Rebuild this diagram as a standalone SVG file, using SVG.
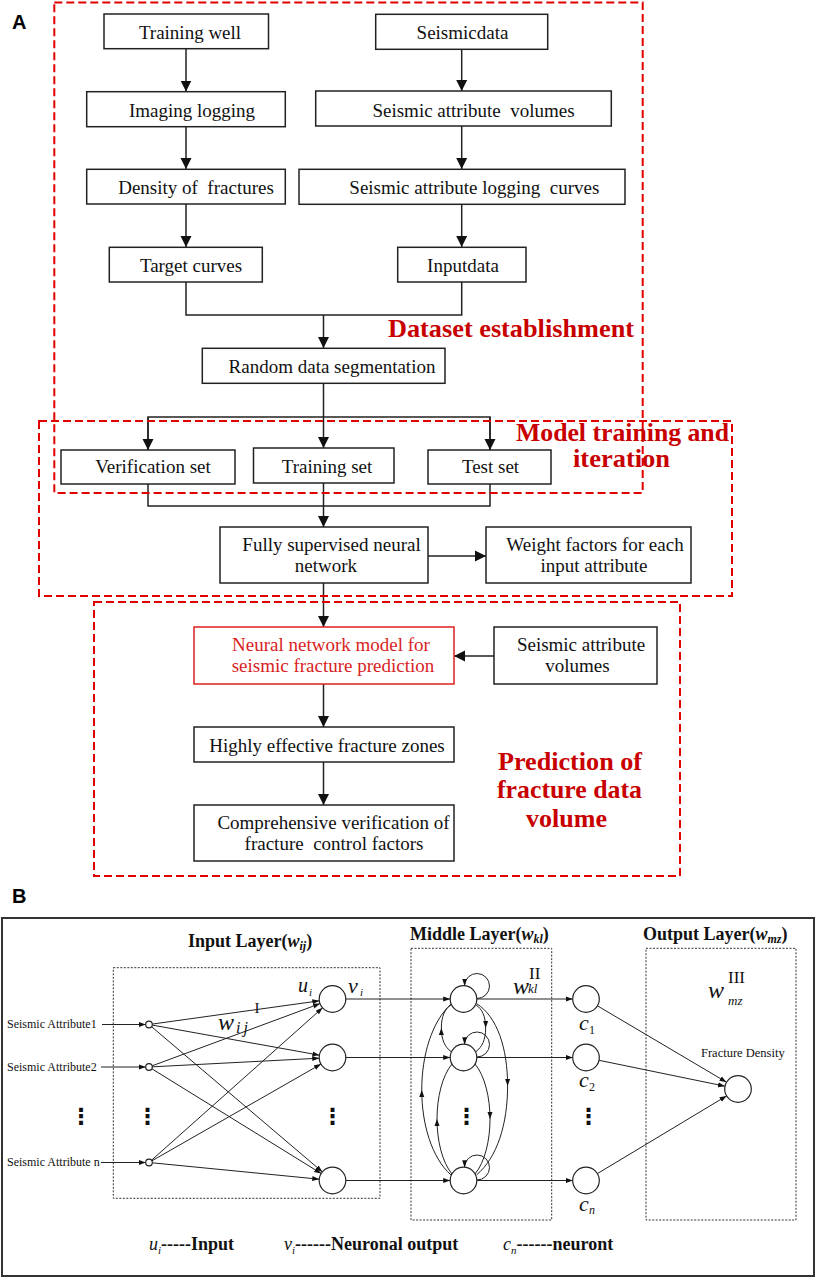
<svg xmlns="http://www.w3.org/2000/svg" width="816" height="1278" viewBox="0 0 816 1278">
<style>
.bx{fill:#fff;stroke:#222;stroke-width:1.5}
.rbx{fill:#fff;stroke:#e0201e;stroke-width:1.5}
.t{font-family:"Liberation Serif","Times New Roman",serif;font-size:19px;fill:#111;text-anchor:middle}
.rt{font-family:"Liberation Serif","Times New Roman",serif;font-size:19px;fill:#d81e1e;text-anchor:middle}
.lab{font-family:"Liberation Serif","Times New Roman",serif;font-weight:bold;font-size:25px;fill:#c80000}
.rd{fill:none;stroke:#e00000;stroke-width:2;stroke-dasharray:8,4}
.ln{fill:none;stroke:#222;stroke-width:1.5}
.ln2{fill:none;stroke:#222;stroke-width:1}
.db{fill:none;stroke:#333;stroke-width:1;stroke-dasharray:2,1.5}
.nd{fill:#fff;stroke:#222;stroke-width:1.2}
.s{font-family:"Liberation Serif","Times New Roman",serif;fill:#111}
.hd{font-family:"Liberation Serif","Times New Roman",serif;font-weight:bold;font-size:18px;fill:#111}
.dots{font-family:"DejaVu Sans",sans-serif;font-size:22px;fill:#111;text-anchor:middle;font-weight:bold}
.pl{font-family:"Liberation Sans",Arial,sans-serif;font-weight:bold;font-size:20px;fill:#000}
</style>
<defs>
<marker id="aL" markerUnits="userSpaceOnUse" markerWidth="12" markerHeight="12" refX="11" refY="6" orient="auto"><path d="M0,0.5 L11,6 L0,11.5 z" fill="#111"/></marker>
<marker id="aS" markerUnits="userSpaceOnUse" markerWidth="8" markerHeight="6" refX="7" refY="3" orient="auto"><path d="M0,0.5 L7,3 L0,5.5 z" fill="#111"/></marker>
</defs>
<rect width="816" height="1278" fill="#fff"/>

<text class="pl" x="12" y="29">A</text>

<g id="connectors-A">
<line class="ln" x1="186" y1="48.7" x2="186" y2="91.5" marker-end="url(#aL)"/>
<line class="ln" x1="186" y1="126.7" x2="186" y2="169" marker-end="url(#aL)"/>
<line class="ln" x1="186" y1="204" x2="186" y2="247" marker-end="url(#aL)"/>
<line class="ln" x1="461.7" y1="49.3" x2="461.7" y2="91" marker-end="url(#aL)"/>
<line class="ln" x1="461.7" y1="126" x2="461.7" y2="169" marker-end="url(#aL)"/>
<line class="ln" x1="461.7" y1="204.3" x2="461.7" y2="247" marker-end="url(#aL)"/>
<polyline class="ln" points="186,282 186,315 461.7,315 461.7,282"/>
<line class="ln" x1="323.5" y1="315" x2="323.5" y2="348" marker-end="url(#aL)"/>
<line class="ln" x1="323.5" y1="383.3" x2="323.5" y2="448" marker-end="url(#aL)"/>
<polyline class="ln" points="148,450 148,417 490,417 490,450" />
<line class="ln" x1="148" y1="417" x2="148" y2="450" marker-end="url(#aL)"/>
<line class="ln" x1="490" y1="417" x2="490" y2="450" marker-end="url(#aL)"/>
<polyline class="ln" points="148,484 148,506 490,506 490,484"/>
<line class="ln" x1="323.5" y1="483" x2="323.5" y2="527" marker-end="url(#aL)"/>
<line class="ln" x1="428" y1="556" x2="486" y2="556" marker-end="url(#aL)"/>
<line class="ln" x1="323.5" y1="583" x2="323.5" y2="627" marker-end="url(#aL)"/>
<line class="ln" x1="494" y1="656" x2="454" y2="656" marker-end="url(#aL)"/>
<line class="ln" x1="323.5" y1="684" x2="323.5" y2="727" marker-end="url(#aL)"/>
<line class="ln" x1="323.5" y1="762" x2="323.5" y2="805" marker-end="url(#aL)"/>
</g>

<g id="training-well"><rect class="bx" x="104" y="14" width="164.5" height="34.7"/><text class="t" x="190" y="38.5">Training well</text></g>
<g id="imaging-logging"><rect class="bx" x="86.7" y="91.7" width="198.6" height="35"/><text class="t" x="192" y="117">Imaging logging</text></g>
<g id="density"><rect class="bx" x="86.7" y="169.3" width="198.6" height="34.7"/><text class="t" x="196" y="194" xml:space="preserve">Density of  fractures</text></g>
<g id="target-curves"><rect class="bx" x="109.3" y="247.3" width="153" height="34.7"/><text class="t" x="191" y="272">Target curves</text></g>
<g id="seismicdata"><rect class="bx" x="375.7" y="14.3" width="172" height="35"/><text class="t" x="462.5" y="38.5">Seismicdata</text></g>
<g id="seismic-attr-volumes"><rect class="bx" x="315.7" y="91" width="295.6" height="35"/><text class="t" x="473.5" y="117" xml:space="preserve">Seismic attribute  volumes</text></g>
<g id="seismic-attr-logging"><rect class="bx" x="299" y="169.3" width="326" height="35"/><text class="t" x="474.4" y="194" xml:space="preserve">Seismic attribute logging  curves</text></g>
<g id="inputdata"><rect class="bx" x="397.7" y="247.3" width="128.3" height="34.7"/><text class="t" x="463" y="272">Inputdata</text></g>
<g id="random-seg"><rect class="bx" x="202.3" y="348.3" width="242.7" height="35"/><text class="t" x="332" y="372.5">Random data segmentation</text></g>
<g id="verification-set"><rect class="bx" x="61" y="450" width="174" height="34"/><text class="t" x="153" y="473">Verification set</text></g>
<g id="training-set"><rect class="bx" x="253.5" y="448" width="140.5" height="35"/><text class="t" x="327" y="472.5">Training set</text></g>
<g id="test-set"><rect class="bx" x="428" y="450" width="123" height="34"/><text class="t" x="490.5" y="473">Test set</text></g>
<g id="fully-supervised"><rect class="bx" x="220" y="527" width="208" height="56"/><text class="t" x="331.5" y="550.5">Fully supervised neural</text><text class="t" x="326" y="572.3">network</text></g>
<g id="weight-factors"><rect class="bx" x="486" y="527" width="205" height="56"/><text class="t" x="595" y="550.5">Weight factors for each</text><text class="t" x="594" y="572.3">input attribute</text></g>
<g id="nn-model"><rect class="rbx" x="194" y="627" width="260" height="57"/><text class="rt" x="331" y="651">Neural network model for</text><text class="rt" x="333" y="672">seismic fracture prediction</text></g>
<g id="seismic-attr-volumes-2"><rect class="bx" x="494" y="627" width="163" height="57"/><text class="t" x="581" y="651">Seismic attribute</text><text class="t" x="577.5" y="672">volumes</text></g>
<g id="highly-effective"><rect class="bx" x="194" y="727" width="260" height="35"/><text class="t" x="327" y="751.7">Highly effective fracture zones</text></g>
<g id="comprehensive"><rect class="bx" x="194" y="805" width="260" height="56"/><text class="t" x="333.5" y="829">Comprehensive verification of</text><text class="t" x="334" y="850" xml:space="preserve">fracture  control factors</text></g>

<g id="regions">
<rect class="rd" x="54.3" y="2.5" width="588.4" height="490.5"/>
<rect class="rd" x="39" y="421" width="693" height="175"/>
<rect class="rd" x="94" y="602" width="586" height="274"/>
<text class="lab" x="388" y="337" textLength="246" lengthAdjust="spacingAndGlyphs">Dataset establishment</text>
<text class="lab" x="516" y="441" font-size="21" textLength="213" lengthAdjust="spacingAndGlyphs">Model training and</text>
<text class="lab" x="573" y="467" font-size="20" textLength="97" lengthAdjust="spacingAndGlyphs">iteration</text>
<text class="lab" x="498" y="770" textLength="144" lengthAdjust="spacingAndGlyphs">Prediction of</text>
<text class="lab" x="497" y="798" textLength="145" lengthAdjust="spacingAndGlyphs">fracture data</text>
<text class="lab" x="526" y="827" textLength="81" lengthAdjust="spacingAndGlyphs">volume</text>
</g>

<text class="pl" x="12" y="903">B</text>
<rect x="2" y="918" width="812" height="358" fill="none" stroke="#333" stroke-width="2"/>

<g id="layer-frames">
<rect class="db" x="113.3" y="967.7" width="266.7" height="230.6"/>
<rect class="db" x="411" y="948.3" width="140.7" height="271.7"/>
<rect class="db" x="646" y="948.3" width="150" height="271.7"/>
<text class="hd" x="188" y="946.5">Input Layer(<tspan font-style="italic">w</tspan><tspan font-style="italic" font-size="12" dy="3">ij</tspan><tspan dy="-3">)</tspan></text>
<text class="hd" x="410" y="940">Middle Layer(<tspan font-style="italic">w</tspan><tspan font-style="italic" font-size="12" dy="3">kl</tspan><tspan dy="-3">)</tspan></text>
<text class="hd" x="643" y="940">Output Layer(<tspan font-style="italic">w</tspan><tspan font-style="italic" font-size="12" dy="3">mz</tspan><tspan dy="-3">)</tspan></text>
</g>

<g id="connectors-B">
<line class="ln2" x1="102" y1="1024.5" x2="145.7" y2="1024.5" marker-end="url(#aS)"/>
<line class="ln2" x1="101" y1="1067" x2="145.7" y2="1067" marker-end="url(#aS)"/>
<line class="ln2" x1="101" y1="1162.5" x2="145.7" y2="1162.5" marker-end="url(#aS)"/>
<line class="ln2" x1="152.3" y1="1024.05" x2="319.33" y2="1000.83" marker-end="url(#aS)"/>
<line class="ln2" x1="152.25" y1="1025.08" x2="319.41" y2="1055.15" marker-end="url(#aS)"/>
<line class="ln2" x1="151.51" y1="1026.64" x2="322.37" y2="1171.89" marker-end="url(#aS)"/>
<line class="ln2" x1="152.09" y1="1065.85" x2="320.03" y2="1003.62" marker-end="url(#aS)"/>
<line class="ln2" x1="152.3" y1="1066.83" x2="319.22" y2="1058.19" marker-end="url(#aS)"/>
<line class="ln2" x1="151.81" y1="1068.74" x2="321.19" y2="1173.5" marker-end="url(#aS)"/>
<line class="ln2" x1="151.46" y1="1160.3" x2="322.57" y2="1007.85" marker-end="url(#aS)"/>
<line class="ln2" x1="151.86" y1="1160.86" x2="320.96" y2="1064.1" marker-end="url(#aS)"/>
<line class="ln2" x1="152.28" y1="1162.82" x2="319.26" y2="1179.2" marker-end="url(#aS)"/>
<line class="ln2" x1="345.8" y1="999" x2="450.2" y2="999" marker-end="url(#aS)"/>
<line class="ln2" x1="345.8" y1="1057.5" x2="450.2" y2="1057.5" marker-end="url(#aS)"/>
<line class="ln2" x1="345.8" y1="1180.5" x2="450.2" y2="1180.5" marker-end="url(#aS)"/>
<line class="ln2" x1="476.8" y1="999" x2="572.7" y2="999" marker-end="url(#aS)"/>
<line class="ln2" x1="476.8" y1="1057.5" x2="572.7" y2="1057.5" marker-end="url(#aS)"/>
<line class="ln2" x1="476.8" y1="1180.5" x2="572.7" y2="1180.5" marker-end="url(#aS)"/>
<line class="ln2" x1="597.4" y1="1005.8" x2="726.57" y2="1082.2" marker-end="url(#aS)"/>
<line class="ln2" x1="599" y1="1060.3" x2="725" y2="1086.2" marker-end="url(#aS)"/>
<line class="ln2" x1="597.4" y1="1173.6" x2="726.6" y2="1095.9" marker-end="url(#aS)"/>
<path class="ln2" d="M477 998.5 A12.5 12.5 0 1 0 464.5 985.7" marker-end="url(#aS)"/>
<path class="ln2" d="M477 1057 A12.5 12.5 0 1 0 464.5 1044.2" marker-end="url(#aS)"/>
<path class="ln2" d="M477 1180 A12.5 12.5 0 1 0 464.5 1167.2" marker-end="url(#aS)"/>
<path class="ln2" d="M451 1175 C431.5 1157.5 421.75 1123.75 421.75 1089.9 C421.75 1056 431.5 1022 451 1004" marker-mid="url(#aS)"/>
<path class="ln2" d="M451.4 1051.9 C444.7 1047 441.35 1039.5 441.35 1028 C441.35 1016.5 444.7 1009 451.4 1004.6" marker-mid="url(#aS)"/>
<path class="ln2" d="M475.6 1004.6 C482.3 1009 485.65 1016.5 485.65 1028 C485.65 1039.5 482.3 1047 475.6 1051.9" marker-mid="url(#aS)"/>
<path class="ln2" d="M476.5 1003.5 C497.25 1016.75 507.6 1048 507.6 1086 C507.6 1124 497.25 1157.5 476.5 1175" marker-mid="url(#aS)"/>
<path class="ln2" d="M452 1174 C442 1162 437 1140 437 1119 C437 1098 442 1076 452 1064" marker-mid="url(#aS)"/>
<path class="ln2" d="M475 1064 C485 1076 490 1098 490 1119 C490 1140 485 1162 475 1174" marker-mid="url(#aS)"/>
</g>

<g id="input-nodes">
<circle class="nd" cx="149" cy="1024.5" r="3.3"/>
<circle class="nd" cx="149" cy="1067" r="3.3"/>
<circle class="nd" cx="149" cy="1162.5" r="3.3"/>
<text class="s" x="7" y="1028" font-size="12">Seismic Attribute1</text>
<text class="s" x="7" y="1070.5" font-size="12">Seismic Attribute2</text>
<text class="s" x="7" y="1166" font-size="12">Seismic Attribute n</text>
</g>
<g id="input-neurons">
<circle class="nd" cx="332.5" cy="999" r="13.3"/>
<circle class="nd" cx="332.5" cy="1057.5" r="13.3"/>
<circle class="nd" cx="332.5" cy="1180.5" r="13.3"/>
<text class="s" x="298" y="992" font-size="20" font-style="italic">u</text><text class="s" x="309" y="996" font-size="11" font-style="italic">i</text>
<text class="s" x="348" y="993" font-size="22" font-style="italic">v</text><text class="s" x="360" y="996" font-size="11" font-style="italic">i</text>
<text class="s" x="218" y="1030" font-size="24" font-style="italic">w</text><text class="s" x="236" y="1033" font-size="16" font-style="italic" letter-spacing="3">ij</text>
<text class="s" x="257" y="1013" font-size="15" text-anchor="middle">I</text>
</g>
<g id="middle-neurons">
<circle class="nd" cx="463.5" cy="999" r="13.3"/>
<circle class="nd" cx="463.5" cy="1057.5" r="13.3"/>
<circle class="nd" cx="463.5" cy="1180.5" r="13.3"/>
<text class="s" x="513" y="994" font-size="24" font-style="italic">w</text>
<text class="s" x="529" y="979" font-size="17">II</text>
<text class="s" x="528" y="993" font-size="13" font-style="italic">kl</text>
</g>
<g id="c-neurons">
<circle class="nd" cx="586" cy="999" r="13.3"/>
<circle class="nd" cx="586" cy="1057.5" r="13.3"/>
<circle class="nd" cx="586" cy="1180.5" r="13.3"/>
<text class="s" x="579" y="1030" font-size="22" font-style="italic">c</text><text class="s" x="589" y="1034" font-size="12">1</text>
<text class="s" x="579" y="1087" font-size="22" font-style="italic">c</text><text class="s" x="589" y="1091" font-size="12">2</text>
<text class="s" x="579" y="1211" font-size="22" font-style="italic">c</text><text class="s" x="589" y="1214" font-size="12" font-style="italic">n</text>
</g>
<g id="output-neuron">
<circle class="nd" cx="738" cy="1089" r="13.3"/>
<text class="s" x="701" y="1056.7" font-size="12.5">Fracture Density</text>
<text class="s" x="708" y="998" font-size="24" font-style="italic">w</text>
<text class="s" x="728" y="983" font-size="17">III</text>
<text class="s" x="728" y="1005" font-size="13" font-style="italic">mz</text>
</g>
<g id="ellipses">
<text class="dots" x="81" y="1124">⋮</text>
<text class="dots" x="147.5" y="1124">⋮</text>
<text class="dots" x="332.5" y="1124">⋮</text>
<text class="dots" x="466.5" y="1124">⋮</text>
<text class="dots" x="588.5" y="1124">⋮</text>
</g>
<g id="legend">
<text class="hd" x="149" y="1250"><tspan font-style="italic" font-weight="normal">u</tspan><tspan font-style="italic" font-weight="normal" font-size="11" dy="4">i</tspan><tspan dy="-4">-----Input</tspan></text>
<text class="hd" x="284" y="1250"><tspan font-style="italic" font-weight="normal">v</tspan><tspan font-style="italic" font-weight="normal" font-size="11" dy="4">i</tspan><tspan dy="-4">------Neuronal output</tspan></text>
<text class="hd" x="503" y="1250"><tspan font-style="italic" font-weight="normal">c</tspan><tspan font-style="italic" font-weight="normal" font-size="11" dy="4">n</tspan><tspan dy="-4">------neuront</tspan></text>
</g>
</svg>
